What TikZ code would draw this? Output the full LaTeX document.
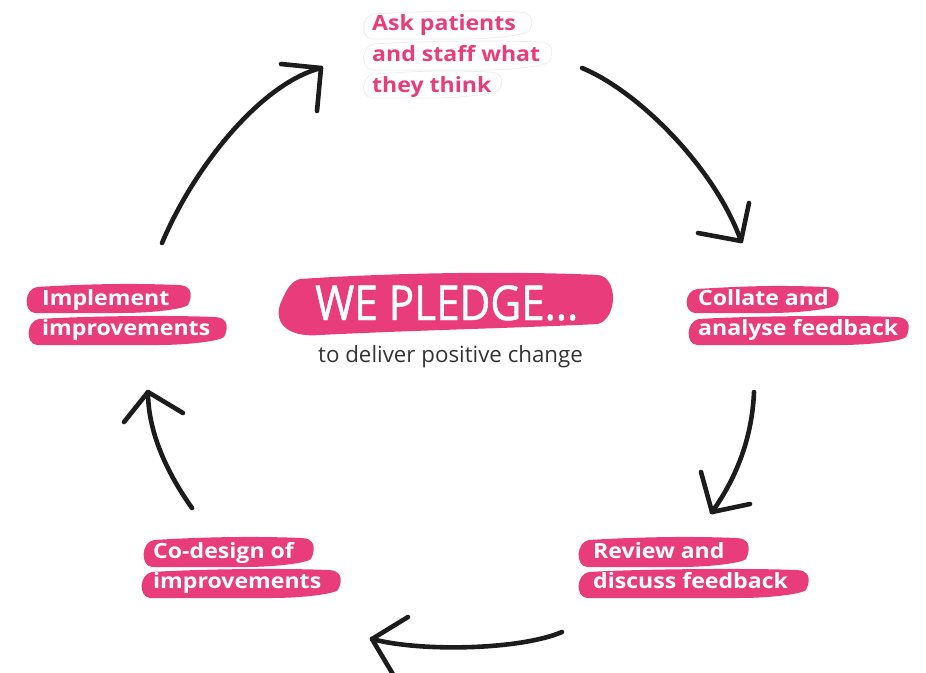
\documentclass[tikz,border=0pt]{standalone}
\usepackage{fontspec}
\setmainfont{Open Sans}
\newfontfamily\labfont[FakeStretch=1.1]{Open Sans}
\newfontfamily\pledgefont[FakeStretch=0.88,FakeBold=1.0]{Open Sans}
\definecolor{pledgepink}{HTML}{E83D7A}
\definecolor{inkblack}{HTML}{1C1C1C}
\definecolor{subgray}{HTML}{333333}
\newcommand{\brushblob}[4]{%
  \fill[pledgepink] ({#1+12},{#2+2}) .. controls ({#1+60},{#2-1}) and ({#3-60},{#2-2}) .. ({#3-14},{#2})
    .. controls ({#3-2},{#2}) and ({#3+2},{#2+8}) .. ({#3-4},{#4-8})
    .. controls ({#3-8},{#4-4}) and ({#3-40},{#4}) .. ({#3-70},{#4})
    .. controls ({#3-100},{#4}) and ({#1+60},{#4}) .. ({#1+10},{#4})
    .. controls ({#1-2},{#4-1}) and ({#1-1},{#2+4}) .. cycle;}
\newcommand{\ghostblob}[4]{%
  \draw[gray!16, line width=0.7pt] ({#1+12},{#2+2}) .. controls ({#1+60},{#2-1}) and ({#3-60},{#2-2}) .. ({#3-14},{#2})
    .. controls ({#3-2},{#2}) and ({#3+2},{#2+8}) .. ({#3-4},{#4-8})
    .. controls ({#3-8},{#4-4}) and ({#3-40},{#4}) .. ({#3-70},{#4})
    .. controls ({#3-100},{#4}) and ({#1+60},{#4}) .. ({#1+10},{#4})
    .. controls ({#1-2},{#4-1}) and ({#1-1},{#2+4}) .. cycle;}
\tikzset{
  lab/.style={anchor=base west, inner sep=0pt, font=\labfont\bfseries\fontsize{21}{25}\selectfont},
  whitelab/.style={lab, text=white},
  pinklab/.style={lab, text=pledgepink},
  pledgetext/.style={anchor=base west, inner sep=0pt, text=white, font=\pledgefont\fontsize{48}{50}\selectfont},
  arr/.style={draw=inkblack, line width=4.6pt, line cap=round, line join=round},
}
\begin{document}
\begin{tikzpicture}[x=1pt, y=-1pt]
\useasboundingbox (0,0) rectangle (926,672);

% ---------- top label (pink on white, faint outlines)
\ghostblob{362}{12}{533}{39}
\ghostblob{362}{42}{553}{70}
\ghostblob{362}{72}{503}{98}
\node[pinklab] (ask1) at (372,30) {Ask patients};
\node[pinklab] (ask2) at (372,61) {and staff what};
\node[pinklab] (ask3) at (372,92) {they think};

% ---------- left label
\brushblob{25}{285}{192}{313}
\brushblob{27}{317}{228}{345}
\node[whitelab] (imp1) at (42,305) {Implement};
\node[whitelab] (imp2) at (42,335) {improvements};

% ---------- right label
\brushblob{685}{287}{840}{313}
\brushblob{687}{317}{910}{345}
\node[whitelab] (col1) at (698,305) {Collate and};
\node[whitelab] (col2) at (698,335) {analyse feedback};

% ---------- bottom left label
\brushblob{142}{538}{315}{567}
\brushblob{140}{570}{342}{598}
\node[whitelab] (cod1) at (153,558) {Co-design of};
\node[whitelab] (cod2) at (153,588) {improvements};

% ---------- bottom right label
\brushblob{577}{538}{750}{567}
\brushblob{577}{570}{810}{598}
\node[whitelab] (rev1) at (593,558) {Review and};
\node[whitelab] (rev2) at (593,588) {discuss feedback};

% ---------- centre
\fill[pledgepink] (300,279) .. controls (420,271) and (540,272) .. (598,275)
  .. controls (618,277) and (618,318) .. (598,324)
  .. controls (520,328) and (420,330) .. (320,335)
  .. controls (284,338) and (272,320) .. (282,300)
  .. controls (287,288) and (292,281) .. (300,279);
\node[pledgetext] (pledge) at (315,320) {WE PLEDGE...};
\node[anchor=base west, inner sep=0pt, text=subgray, font=\fontsize{22.3}{26}\selectfont] (sub) at (318,362) {to deliver positive change};

% ---------- arrow end points
\coordinate (a1s) at (162,243); \coordinate (a1e) at (321,68);
\coordinate (a2s) at (582,68);  \coordinate (a2e) at (741,241);
\coordinate (a3s) at (754,392); \coordinate (a3e) at (712,512);
\coordinate (a4s) at (562,632); \coordinate (a4e) at (372,639);
\coordinate (a5s) at (192,508); \coordinate (a5e) at (148,392);

% ---------- arrows
\draw[arr] (a1s) .. controls (195,165) and (262,83) .. (a1e);
\draw[arr] (281,64) -- (a1e) -- (317,111);

\draw[arr] (a2s) .. controls (640,92) and (716,170) .. (a2e);
\draw[arr] (698,233) -- (a2e) -- (749,203);

\draw[arr] (a3s) .. controls (752,440) and (735,480) .. (a3e);
\draw[arr] (701,472) -- (a3e) -- (750,504);

\draw[arr] (a4s) .. controls (520,650) and (420,652) .. (a4e);
\draw[arr] (408,617) -- (a4e) -- (394,676);

\draw[arr] (a5s) .. controls (165,470) and (148,430) .. (a5e);
\draw[arr] (124,422) -- (a5e) -- (183,413);
\end{tikzpicture}
\end{document}
